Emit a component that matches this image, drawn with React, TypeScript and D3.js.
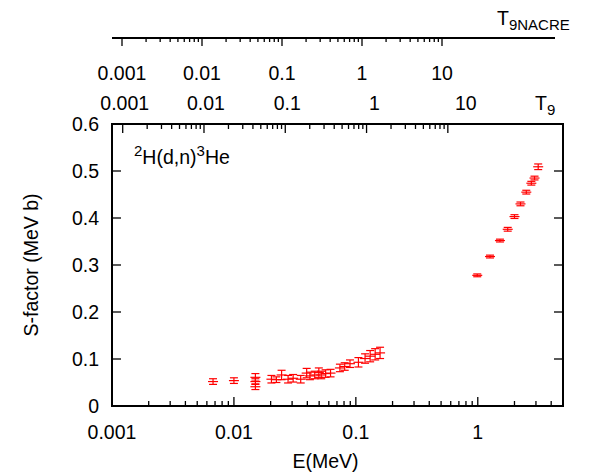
import { useEffect, useRef } from "react";
import * as d3 from "d3";

// E (MeV), S-factor (MeV b), error
const energies = [0.00674, 0.01, 0.015, 0.015, 0.015, 0.0203, 0.0223, 0.0246, 0.0278, 0.0306, 0.0353, 0.0395, 0.042, 0.046, 0.0497, 0.052, 0.0565, 0.062, 0.074, 0.081, 0.0895, 0.105, 0.119, 0.131, 0.144, 0.158,
  0.99, 1.26, 1.52, 1.76, 2.0, 2.24, 2.5, 2.75, 2.92, 3.13];
const sfactors = [0.052, 0.054, 0.061, 0.052, 0.041, 0.057, 0.056, 0.066, 0.057, 0.059, 0.057, 0.07, 0.064, 0.066, 0.071, 0.066, 0.069, 0.07, 0.081, 0.084, 0.09, 0.093, 0.101, 0.106, 0.11, 0.113,
  0.278, 0.318, 0.352, 0.376, 0.403, 0.43, 0.455, 0.474, 0.485, 0.509];
const errors = [0.006, 0.006, 0.008, 0.006, 0.006, 0.008, 0.006, 0.01, 0.008, 0.008, 0.008, 0.01, 0.008, 0.008, 0.01, 0.008, 0.008, 0.008, 0.008, 0.008, 0.008, 0.01, 0.01, 0.012, 0.012, 0.012,
  0.003, 0.003, 0.003, 0.004, 0.004, 0.004, 0.004, 0.004, 0.004, 0.006];
const yTicks = [0, 0.1, 0.2, 0.3, 0.4, 0.5, 0.6];
const xTickLabels = ["0.001", "0.01", "0.1", "1"];
const t9Labels = ["0.001", "0.01", "0.1", "1", "10"];

const font = "'Liberation Sans', Arial, sans-serif";
const fs = 19.5;
const sub = 15;

export default function App() {
  const ref = useRef<SVGSVGElement>(null);
  useEffect(() => {
    const svg = d3.select(ref.current!);
    svg.selectAll("*").remove();
    const L = 112, R = 563, T = 124, B = 406;
    const x = d3.scaleLog().domain([0.001, 5]).range([L, R]);
    const y = d3.scaleLinear().domain([0, 0.6]).range([B, T]);
    // Gamow peak energy for d+d
    const e0 = (t9: number) => 0.1224 * Math.pow(t9, 2 / 3);
    const nacre = d3.scaleLog().domain([0.001, 10]).range([122, 442]);

    const decadeTicks = (lo: number, hi: number) => {
      const out: { v: number; major: boolean }[] = [];
      for (let d = lo; d < hi * 1.0001; d *= 10) {
        for (let k = 1; k <= 9; k++) {
          const v = d * k;
          if (v > hi * 1.0001) break;
          out.push({ v, major: k === 1 });
        }
      }
      return out;
    };

    const g = svg.append("g");
    decadeTicks(0.001, 5).forEach(t => {
      const len = t.major ? 9 : 5;
      g.append("line").attr("x1", x(t.v)).attr("x2", x(t.v)).attr("y1", B).attr("y2", B - len).attr("stroke", "#000").attr("stroke-width", 1.3);
    });
    decadeTicks(0.001, 10).forEach(t => {
      const len = t.major ? 9 : 5;
      const xv = x(e0(t.v));
      g.append("line").attr("x1", xv).attr("x2", xv).attr("y1", T).attr("y2", T + len).attr("stroke", "#000").attr("stroke-width", 1.3);
    });
    yTicks.forEach(v => {
      g.append("line").attr("x1", L).attr("x2", L + 9).attr("y1", y(v)).attr("y2", y(v)).attr("stroke", "#000").attr("stroke-width", 1.3);
      g.append("line").attr("x1", R).attr("x2", R - 9).attr("y1", y(v)).attr("y2", y(v)).attr("stroke", "#000").attr("stroke-width", 1.3);
      g.append("text").attr("x", L - 13).attr("y", y(v) + 7).attr("text-anchor", "end").attr("font-family", font).attr("font-size", fs).text(String(v));
    });
    xTickLabels.forEach(s => {
      g.append("text").attr("x", x(+s)).attr("y", B + 33).attr("text-anchor", "middle").attr("font-family", font).attr("font-size", fs).text(s);
    });
    t9Labels.forEach((s, i) => {
      g.append("text").attr("x", x(e0(+s)) + (i === 4 ? 18 : i === 3 ? 8 : 2)).attr("y", 110).attr("text-anchor", "middle").attr("font-family", font).attr("font-size", fs).text(s);
    });
    g.append("rect").attr("x", L).attr("y", T).attr("width", R - L).attr("height", B - T).attr("fill", "none").attr("stroke", "#000").attr("stroke-width", 2);

    // NACRE axis
    g.append("line").attr("x1", 112).attr("x2", 555).attr("y1", 38).attr("y2", 38).attr("stroke", "#000").attr("stroke-width", 2);
    decadeTicks(0.001, 10).forEach(t => {
      const len = t.major ? 8 : 4;
      g.append("line").attr("x1", nacre(t.v)).attr("x2", nacre(t.v)).attr("y1", 38).attr("y2", 38 + len).attr("stroke", "#000").attr("stroke-width", 1.3);
    });
    t9Labels.forEach(s => {
      g.append("text").attr("x", nacre(+s)).attr("y", 80).attr("text-anchor", "middle").attr("font-family", font).attr("font-size", fs).text(s);
    });
    const nt = g.append("text").attr("x", 497).attr("y", 25).attr("font-family", font).attr("font-size", fs);
    nt.append("tspan").text("T");
    nt.append("tspan").attr("dy", 5).attr("font-size", sub).text("9NACRE");
    const t9 = g.append("text").attr("x", 535).attr("y", 110).attr("font-family", font).attr("font-size", fs);
    t9.append("tspan").text("T");
    t9.append("tspan").attr("dy", 5).attr("font-size", sub).text("9");

    const rl = g.append("text").attr("x", 134).attr("y", 164).attr("font-family", font).attr("font-size", fs);
    rl.append("tspan").attr("dy", -8).attr("font-size", sub).text("2");
    rl.append("tspan").attr("dy", 8).text("H(d,n)");
    rl.append("tspan").attr("dy", -8).attr("font-size", sub).text("3");
    rl.append("tspan").attr("dy", 8).text("He");

    g.append("text").attr("x", (L + R) / 2 - 12).attr("y", 468).attr("text-anchor", "middle").attr("font-family", font).attr("font-size", fs).text("E(MeV)");
    g.append("text").attr("transform", `translate(38,${(T + B) / 2}) rotate(-90)`).attr("text-anchor", "middle").attr("font-family", font).attr("font-size", fs).text("S-factor (MeV b)");

    const red = "#f00";
    energies.forEach((e, i) => {
      const cx = x(e), cy = y(sfactors[i]);
      const y1 = y(sfactors[i] - errors[i]), y2 = y(sfactors[i] + errors[i]);
      const p = g.append("g").attr("stroke", red).attr("stroke-width", 1.2);
      p.append("line").attr("x1", cx).attr("x2", cx).attr("y1", y1).attr("y2", y2);
      p.append("line").attr("x1", cx - 4).attr("x2", cx + 4).attr("y1", y1).attr("y2", y1);
      p.append("line").attr("x1", cx - 4).attr("x2", cx + 4).attr("y1", y2).attr("y2", y2);
      p.append("line").attr("x1", cx - 5).attr("x2", cx + 5).attr("y1", cy).attr("y2", cy);
    });
  }, []);
  return <svg ref={ref} width={609} height={472} style={{ position: "absolute", left: 0, top: 0, background: "#fff" }} />;
}
